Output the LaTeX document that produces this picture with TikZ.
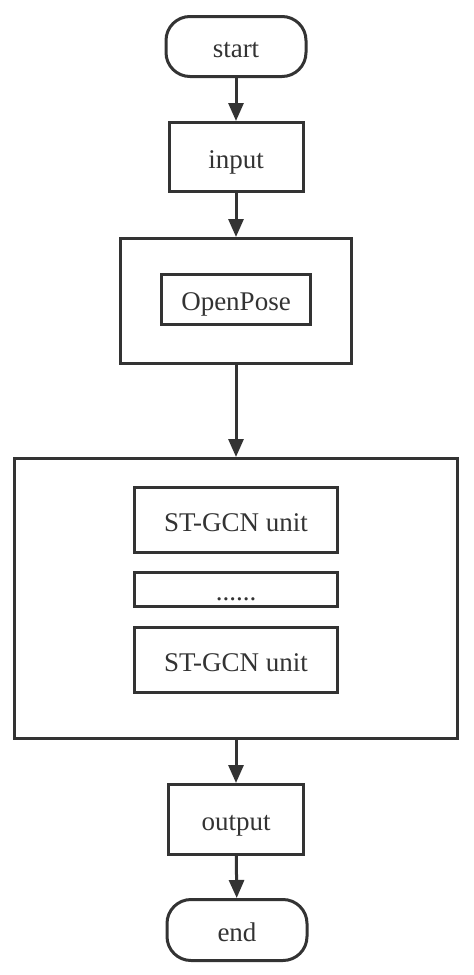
\documentclass[tikz,border=0pt]{standalone}
\usepackage{fontspec}
\setmainfont{Liberation Serif}
\usetikzlibrary{arrows.meta}
\usetikzlibrary{shapes}
\definecolor{lineGray}{HTML}{333333}
\begin{document}
\begin{tikzpicture}[x = 1pt, y = -1pt, font=\fontsize{27}{30}\selectfont]
	\tikzstyle{boxStyle}=[shape = rectangle, draw = lineGray, line width = 3pt, inner sep = 0pt, text = lineGray, text height = 25pt, text depth = 3pt]
	\tikzstyle{termStyle}=[boxStyle, rounded corners = 24pt]
	\tikzstyle{arrowStyle}=[draw = lineGray, line width = 3pt, -{Triangle[width = 15pt, length = 18pt]}]
	\useasboundingbox (0, 0) rectangle (474, 975);
	\node[style = termStyle, minimum width = 140pt, minimum height = 60pt] (start) at (236, 46.5) {start};
	\node[style = boxStyle, minimum width = 134pt, minimum height = 69pt] (input) at (236, 157) {input};
	\node[style = boxStyle, minimum width = 231pt, minimum height = 125pt] (pose) at (236, 301) {};
	\node[style = boxStyle, minimum width = 149pt, minimum height = 50pt] (openpose) at (236, 299.5) {OpenPose};
	\node[style = boxStyle, minimum width = 443pt, minimum height = 280pt] (gcn) at (236, 598.5) {};
	\node[style = boxStyle, minimum width = 203pt, minimum height = 65pt] (unitA) at (236, 520) {ST-GCN unit};
	\node[style = boxStyle, minimum width = 203pt, minimum height = 34pt] (dots) at (236, 589.5) {......};
	\node[style = boxStyle, minimum width = 203pt, minimum height = 65pt] (unitB) at (236, 660) {ST-GCN unit};
	\node[style = boxStyle, minimum width = 135pt, minimum height = 70pt] (output) at (236, 819.5) {output};
	\node[style = termStyle, minimum width = 140pt, minimum height = 61pt] (end) at (237, 930) {end};
	\draw[arrowStyle] (start) -- (input);
	\draw[arrowStyle] (input) -- (pose);
	\draw[arrowStyle] (pose) -- (gcn);
	\draw[arrowStyle] (gcn) -- (output);
	\draw[arrowStyle] (output) -- (end);
\end{tikzpicture}
\end{document}
